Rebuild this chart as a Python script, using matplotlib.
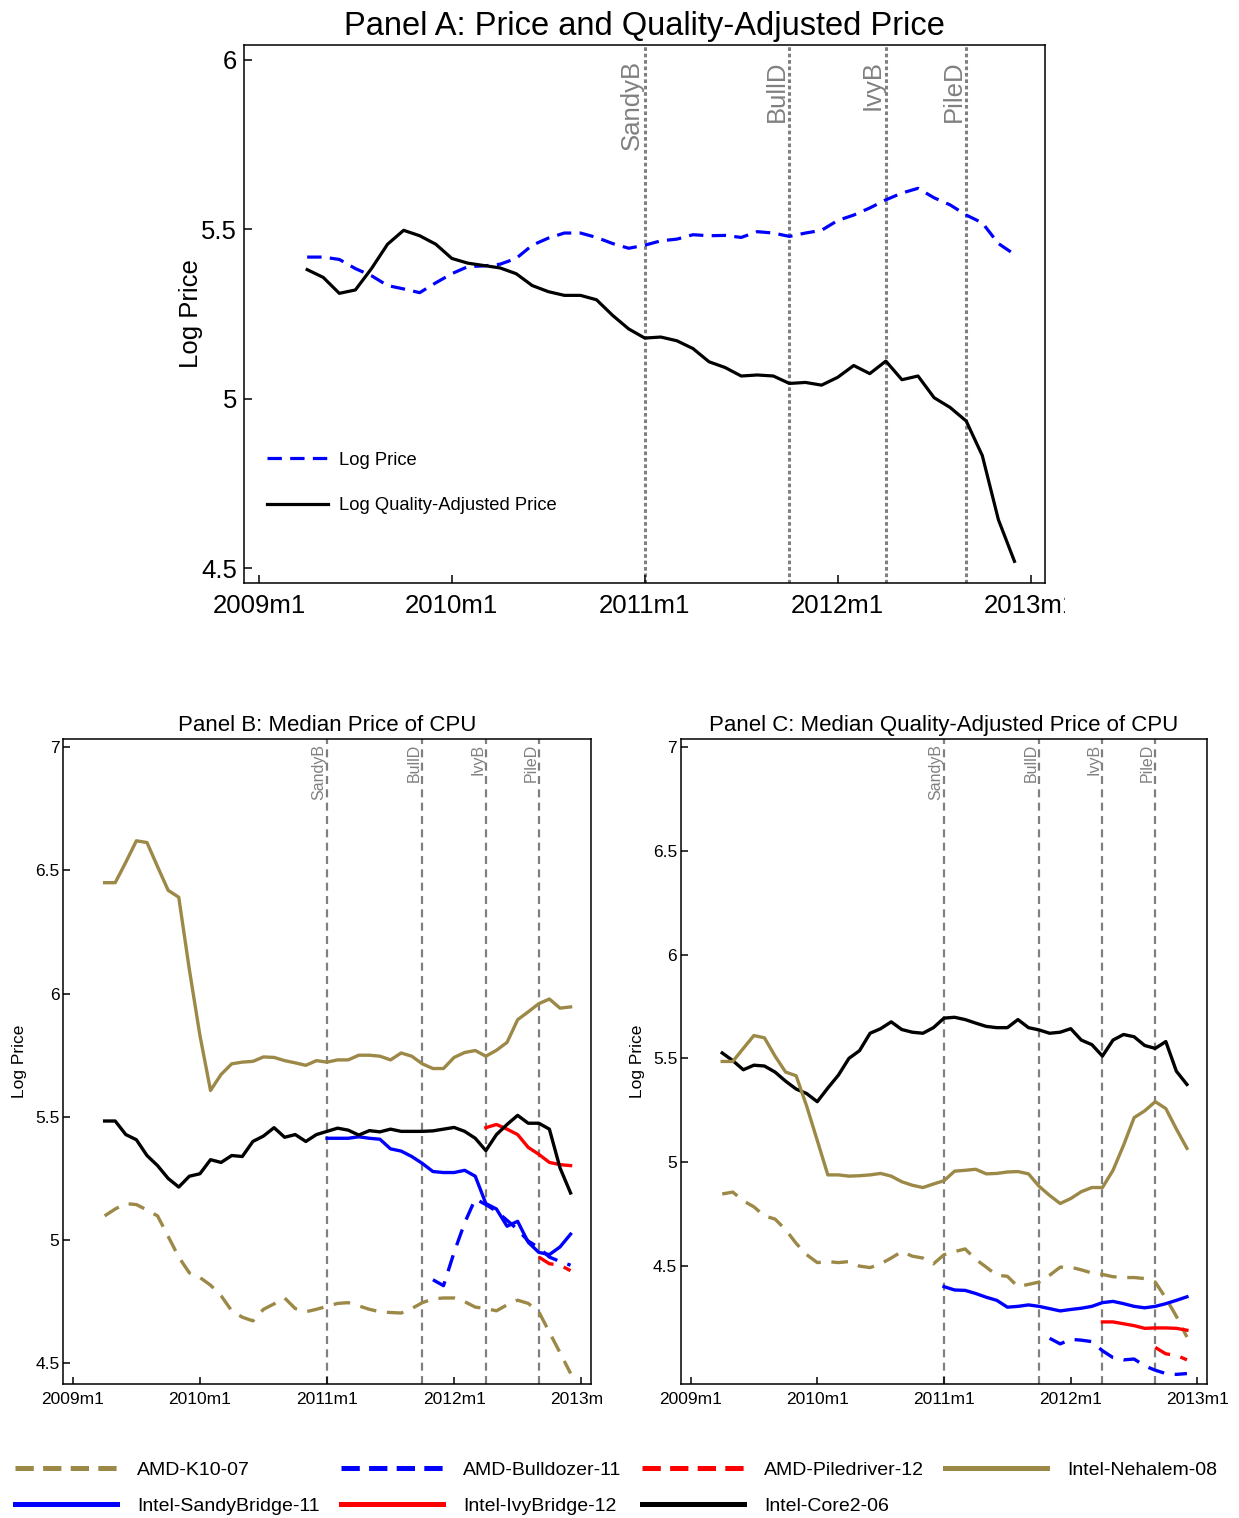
import numpy as np
import matplotlib

matplotlib.use("Agg")
import matplotlib.pyplot as plt
from matplotlib.lines import Line2D
from matplotlib.transforms import Bbox, TransformedBbox

plt.rcParams["font.family"] = ["Liberation Sans", "DejaVu Sans"]

# months counted from 2009m1 = 0
TICK_MONTHS = [0, 12, 24, 36, 48]
TICK_LABELS = ["2009m1", "2010m1", "2011m1", "2012m1", "2013m1"]

# launch dates of new chip generations
LAUNCH_NAMES = ["SandyB", "BullD", "IvyB", "PileD"]
LAUNCH_MONTHS = [24, 33, 39, 44]

# first month of each series (full series start 2009m4)
START_FULL = 3
START_SANDY = 24
START_BULL = 34
START_IVY = 39
START_PILE = 44

# ---- Panel A: overall log price and log quality-adjusted price
a_log_price = [5.418, 5.418, 5.411, 5.384, 5.363, 5.334, 5.324, 5.313, 5.342, 5.369, 5.390,
               5.392, 5.397, 5.414, 5.453, 5.474, 5.489, 5.489, 5.476, 5.458, 5.444, 5.453,
               5.466, 5.471, 5.484, 5.481, 5.482, 5.476, 5.493, 5.489, 5.479, 5.489, 5.497,
               5.526, 5.542, 5.563, 5.587, 5.607, 5.621, 5.593, 5.572, 5.542, 5.519, 5.458, 5.426]
a_log_qadj = [5.381, 5.358, 5.311, 5.321, 5.384, 5.456, 5.497, 5.481, 5.456, 5.414, 5.400,
              5.393, 5.386, 5.369, 5.334, 5.316, 5.305, 5.305, 5.292, 5.246, 5.206, 5.179,
              5.182, 5.171, 5.148, 5.109, 5.092, 5.067, 5.070, 5.067, 5.045, 5.048, 5.040,
              5.063, 5.098, 5.074, 5.111, 5.056, 5.067, 5.003, 4.974, 4.934, 4.832, 4.643, 4.520]

# ---- Panel B: median log price by CPU family
b_k10 = [5.098, 5.126, 5.148, 5.144, 5.122, 5.098, 5.015, 4.931, 4.867, 4.848, 4.817,
         4.774, 4.713, 4.687, 4.672, 4.719, 4.741, 4.765, 4.722, 4.709, 4.719, 4.731,
         4.743, 4.746, 4.733, 4.719, 4.709, 4.706, 4.704, 4.722, 4.746, 4.761, 4.765,
         4.765, 4.750, 4.728, 4.722, 4.713, 4.737, 4.756, 4.743, 4.709, 4.626, 4.543, 4.459]
b_nehalem = [6.450, 6.450, 6.533, 6.620, 6.613, 6.515, 6.419, 6.391, 6.098, 5.830, 5.607,
             5.672, 5.715, 5.722, 5.725, 5.743, 5.741, 5.728, 5.719, 5.709, 5.728, 5.722,
             5.731, 5.731, 5.750, 5.750, 5.746, 5.731, 5.759, 5.746, 5.715, 5.696, 5.696,
             5.741, 5.761, 5.769, 5.746, 5.770, 5.802, 5.894, 5.926, 5.959, 5.978, 5.941, 5.946]
b_core2 = [5.483, 5.483, 5.428, 5.407, 5.343, 5.302, 5.250, 5.215, 5.259, 5.269, 5.326,
           5.315, 5.343, 5.339, 5.400, 5.422, 5.456, 5.417, 5.428, 5.400, 5.428, 5.441,
           5.454, 5.446, 5.426, 5.444, 5.439, 5.450, 5.441, 5.441, 5.441, 5.443, 5.450,
           5.457, 5.441, 5.413, 5.363, 5.428, 5.469, 5.506, 5.474, 5.474, 5.450, 5.293, 5.191]
b_sandy = [5.413, 5.413, 5.413, 5.419, 5.413, 5.409, 5.370, 5.361, 5.339, 5.311, 5.278, 5.274,
           5.274, 5.283, 5.259, 5.148, 5.126, 5.056, 5.076, 4.991, 4.950, 4.941, 4.972, 5.024]
b_bulldozer = [4.839, 4.815, 4.950, 5.070, 5.167, 5.144, 5.117, 5.080, 5.043, 4.996,
               4.969, 4.931, 4.913, 4.898]
b_ivy = [5.456, 5.469, 5.450, 5.428, 5.376, 5.348, 5.315, 5.306, 5.302]
b_piledriver = [4.931, 4.904, 4.898, 4.876]

# ---- Panel C: median log quality-adjusted price by CPU family
c_k10 = [4.846, 4.855, 4.813, 4.784, 4.740, 4.725, 4.674, 4.608, 4.553, 4.515, 4.520,
         4.515, 4.520, 4.498, 4.491, 4.509, 4.537, 4.568, 4.546, 4.537, 4.509, 4.553,
         4.568, 4.581, 4.531, 4.493, 4.454, 4.449, 4.399, 4.410, 4.421, 4.454, 4.493,
         4.493, 4.480, 4.465, 4.458, 4.447, 4.443, 4.443, 4.438, 4.421, 4.344, 4.256, 4.156]
c_nehalem = [5.485, 5.485, 5.548, 5.610, 5.599, 5.511, 5.434, 5.416, 5.269, 5.104, 4.938,
             4.938, 4.932, 4.934, 4.938, 4.945, 4.932, 4.905, 4.888, 4.877, 4.894, 4.910,
             4.956, 4.960, 4.965, 4.943, 4.945, 4.952, 4.954, 4.943, 4.883, 4.839, 4.800,
             4.824, 4.857, 4.877, 4.877, 4.960, 5.081, 5.214, 5.247, 5.291, 5.258, 5.159, 5.066]
c_core2 = [5.526, 5.489, 5.445, 5.467, 5.463, 5.434, 5.390, 5.352, 5.330, 5.291, 5.357,
           5.419, 5.500, 5.537, 5.621, 5.643, 5.676, 5.639, 5.626, 5.621, 5.648, 5.694,
           5.698, 5.687, 5.670, 5.654, 5.648, 5.648, 5.687, 5.648, 5.637, 5.621, 5.626,
           5.643, 5.588, 5.566, 5.511, 5.588, 5.615, 5.604, 5.562, 5.548, 5.581, 5.438, 5.374]
c_sandy = [4.399, 4.383, 4.381, 4.366, 4.348, 4.333, 4.300, 4.304, 4.311, 4.304, 4.293, 4.282,
           4.289, 4.295, 4.304, 4.322, 4.328, 4.317, 4.304, 4.297, 4.304, 4.317, 4.333, 4.350]
c_bulldozer = [4.150, 4.123, 4.145, 4.141, 4.134, 4.090, 4.057, 4.046, 4.050, 4.017,
               3.996, 3.980, 3.976, 3.980]
c_ivy = [4.229, 4.229, 4.220, 4.211, 4.198, 4.200, 4.200, 4.198, 4.189]
c_piledriver = [4.106, 4.075, 4.068, 4.046]

GOLD = "#9C8847"
GRAY = "#808080"
DASH = (0, (5, 3.2))
# (label, colour, dashed?, start month, panel B values, panel C values)
FAMILIES = [
    ("AMD-K10-07", GOLD, True, START_FULL, b_k10, c_k10),
    ("Intel-SandyBridge-11", "blue", False, START_SANDY, b_sandy, c_sandy),
    ("AMD-Bulldozer-11", "blue", True, START_BULL, b_bulldozer, c_bulldozer),
    ("Intel-IvyBridge-12", "red", False, START_IVY, b_ivy, c_ivy),
    ("AMD-Piledriver-12", "red", True, START_PILE, b_piledriver, c_piledriver),
    ("Intel-Core2-06", "black", False, START_FULL, b_core2, c_core2),
    ("Intel-Nehalem-08", GOLD, False, START_FULL, b_nehalem, c_nehalem),
]


def months_for(start, vals):
    return np.arange(start, start + len(vals))


def style_axes(ax, yticks, ylim, fs, ticklen, xpad, ypad):
    ax.set_xlim(-0.93, 48.9)
    ax.set_ylim(*ylim)
    ax.set_xticks(TICK_MONTHS)
    ax.set_xticklabels(TICK_LABELS)
    ax.set_yticks(yticks)
    ax.set_yticklabels([f"{t:g}" for t in yticks])
    ax.tick_params(direction="in", length=ticklen, width=1.1, labelsize=fs,
                   top=False, right=False)
    ax.tick_params(axis="x", pad=xpad)
    ax.tick_params(axis="y", pad=ypad)
    for s in ax.spines.values():
        s.set_linewidth(1.1)


def launch_lines(ax, ls, lw, fs, ytop):
    for name, m in zip(LAUNCH_NAMES, LAUNCH_MONTHS):
        ax.axvline(m, color=GRAY, lw=lw, ls=ls, zorder=1)
        ax.text(m - 0.05, ytop, name, rotation=90, ha="right", va="top", color=GRAY,
                fontsize=fs, transform=ax.get_xaxis_transform())


def clip_last_xlabel(fig, ax, xfrac):
    lbl = ax.get_xticklabels()[-1]
    lbl.set_clip_on(True)
    lbl.set_clip_box(TransformedBbox(Bbox([[0, 0], [xfrac, 1]]), fig.transFigure))


W, H = 1239, 1518
fig = plt.figure(figsize=(W / 100, H / 100), dpi=100, facecolor="white")

# ---------------- Panel A
axA = fig.add_axes([244 / W, 1 - 583 / H, 801 / W, 538 / H])
mA = months_for(START_FULL, a_log_price)
axA.plot(mA, a_log_price, color="blue", lw=2.3, ls=(0, (4.5, 2.6)), label="Log Price", zorder=3)
axA.plot(mA, a_log_qadj, color="black", lw=2.3, label="Log Quality-Adjusted Price", zorder=3)
launch_lines(axA, (0, (1.2, 0.9)), 2.2, 18.5, 0.972)
style_axes(axA, [4.5, 5, 5.5, 6], (4.456, 6.044), 18.5, 6, 8, 5)
axA.set_ylabel("Log Price", fontsize=18.5, labelpad=-1)
axA.set_title("Panel A: Price and Quality-Adjusted Price", fontsize=23.5, pad=7)
axA.legend(loc="lower left", bbox_to_anchor=(0.0083, 0.0974), frameon=False, fontsize=13.2,
           handlelength=3.3, handletextpad=0.6, labelspacing=1.55)
clip_last_xlabel(fig, axA, 1065 / W)

# ---------------- Panels B and C
axB = fig.add_axes([63 / W, 1 - 1383.5 / H, 527.7 / W, 644.5 / H])
axC = fig.add_axes([680.7 / W, 1 - 1383.5 / H, 526.3 / W, 644.5 / H])
for ax, idx in ((axB, 4), (axC, 5)):
    for fam in FAMILIES:
        vals = fam[idx]
        ax.plot(months_for(fam[3], vals), vals, color=fam[1], lw=2.4,
                ls=DASH if fam[2] else "-", zorder=3)
    launch_lines(ax, (0, (3.6, 2.4)), 1.6, 11.5, 0.992)
    ax.set_ylabel("Log Price", fontsize=12.5, labelpad=6)

style_axes(axB, [4.5, 5, 5.5, 6, 6.5, 7], (4.418, 7.033), 12.5, 5, 6, 2.5)
style_axes(axC, [4.5, 5, 5.5, 6, 6.5, 7], (3.932, 7.04), 12.5, 5, 6, 2.5)
axB.set_title("Panel B: Median Price of CPU", fontsize=16, pad=6)
axC.set_title("Panel C: Median Quality-Adjusted Price of CPU", fontsize=16, pad=6)
clip_last_xlabel(fig, axB, 604 / W)

# ---------------- shared legend (column-major order gives the reference rows)
handles = [Line2D([], [], color=f[1], lw=3.6,
                  ls=(0, (3.66, 1.86)) if f[2] else "-") for f in FAMILIES]
fig.legend(handles, [f[0] for f in FAMILIES], ncol=4, loc="upper left",
           bbox_to_anchor=(15 / W, 1 - 1461 / H), frameon=False, fontsize=14,
           borderpad=0, borderaxespad=0, handlelength=5.25, handletextpad=1.03,
           columnspacing=1.08, labelspacing=0.98)

fig.savefig("out.png", dpi=100, facecolor="white")
